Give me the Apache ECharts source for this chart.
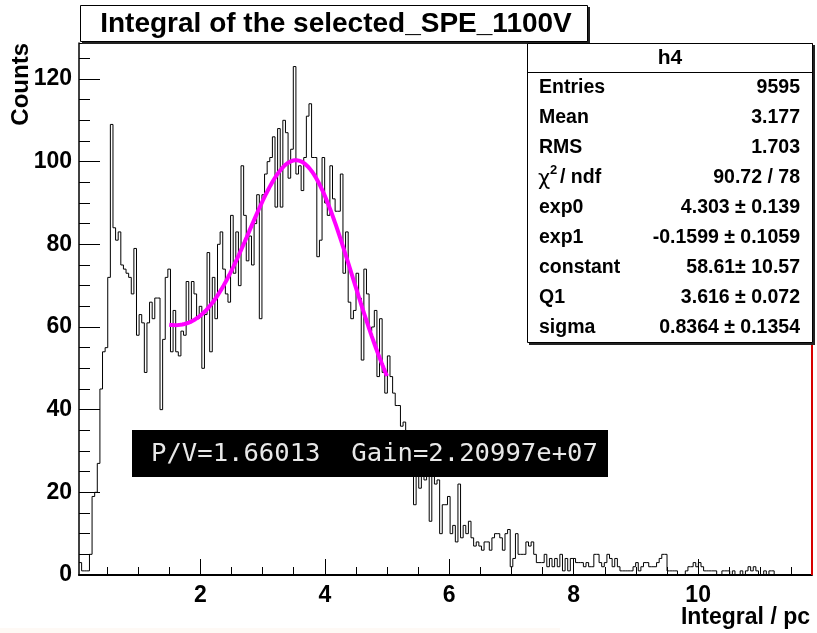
<!DOCTYPE html>
<html>
<head>
<meta charset="utf-8">
<script src="https://cdn.jsdelivr.net/npm/echarts@6/dist/echarts.min.js"></script>
<style>
  html, body { margin: 0; padding: 0; background: #ffffff; }
  #c { width: 817px; height: 633px; }
</style>
</head>
<body>
<div id="c"></div>
<script>
// Histogram binning (charge in pC)
const binLow = 0.05;
const binWidth = 0.042;

// Bin contents, left to right
const countsRise = [3,1,1,1,5,19,20,27,45,54,55,72,109,84,81,83,75,74,73,72,68,79,58,63,61,49,61,66,62,67,67,40,57,72,74,54,64,54,53,59,58,71,61,71,68,62];
const countsPeak = [65,50,63,78,54,72,62,80,83,74,68,66,87,73,83,70,99,87,76,82,75,85,92,62,92,97,100,101,106,89,108,89,110,107,96,103,123,97,99,93,101,111,114,101,101,77,81,101,90];
const countsFall = [87,99,91,88,88,97,73,83,66,62,64,73,67,52,74,68,59,60,64,48,62,49,44,53,48,44,41,41,36,37,33,30,28,17,24,21,24,23,24,13,24,22,23,10,17,17,19,10,12,8,22];
const countsTail = [9,12,10,13,9,7,8,7,6,8,8,6,9,10,10,9,6,10,11,2,4,10,5,5,5,8,7,8,5,3,3,3,5,2,4,2,4,2,5,1,4,1,4,4,3,3,3,2,3,2,2,5,5,3,2,3,5,4,2,4,2,1,1,1,1,1,2];
const countsFar  = [3,1,2,3,3,2,2,2,3,4,5,5,1,1,1,1,0,0,0,1,2,2,3,2,3,2,1,1,1,1,1,0,0,1,1,1,0,1,0,0,1,0,1,2,1,2,1,0,0,1,0,1,1,0,0,0,0,0,0,0,0,0,0,0,0,0,0];

// Axis ranges and ticks
const xMin = 0.05, xMax = 11.83;
const yMin = 0, yMax = 128.7;
const xMajor = [2, 4, 6, 8, 10];
const xMinor = [0.5, 1, 1.5, 2.5, 3, 3.5, 4.5, 5, 5.5, 6.5, 7, 7.5, 8.5, 9, 9.5, 10.5, 11, 11.5];
const yMajor = [0, 20, 40, 60, 80, 100, 120];
const yMinor = [5, 10, 15, 25, 30, 35, 45, 50, 55, 65, 70, 75, 85, 90, 95, 105, 110, 115, 125];

// Fit result (expo + gaus), fitted between fitFrom and fitTo
const exp0 = 4.303, exp1 = -0.1599, constant = 58.61, Q1 = 3.616, sigma = 0.8364;
const fitFrom = 1.5, fitTo = 5.0;

// Texts
const titleText = 'Integral of the selected_SPE_1100V';
const xTitle = 'Integral / pc';
const yTitle = 'Counts';
const statsName = 'h4';
const statLabels = ['Entries', 'Mean', 'RMS', '', 'exp0', 'exp1', 'constant', 'Q1', 'sigma'];
const statValues = ['9595', '3.177', '1.703', '90.72 / 78', '4.303 \u00b1 0.139', '-0.1599 \u00b1 0.1059', '58.61\u00b1 10.57', '3.616 \u00b1 0.072', '0.8364 \u00b1 0.1354'];
const noteText = 'P/V=1.66013  Gain=2.20997e+07';

// ---- build series data ----
const counts = countsRise.concat(countsPeak, countsFall, countsTail, countsFar);
const histPts = counts.map((c, i) => [binLow + i * binWidth, c]);
histPts.push([binLow + counts.length * binWidth, counts[counts.length - 1]]);

function fitFunc(x) {
  return Math.exp(exp0 + exp1 * x) + constant * Math.exp(-0.5 * Math.pow((x - Q1) / sigma, 2));
}
const fitPts = [];
const nFit = 200;
for (let k = 0; k <= nFit; k++) {
  const x = fitFrom + (fitTo - fitFrom) * k / nFit;
  fitPts.push([x, fitFunc(x)]);
}

const sans = '"Liberation Sans", Arial, Helvetica, sans-serif';

function txt(x, y, text, size, opts) {
  opts = opts || {};
  return {
    type: 'text', x: x, y: y, z: opts.z || 110, rotation: opts.rotation || 0, silent: true,
    style: {
      text: text,
      fontSize: size,
      fontWeight: opts.weight || 'bold',
      fontFamily: opts.family || sans,
      fill: opts.fill || '#000',
      align: opts.align || 'left', textAlign: opts.align || 'left',
      verticalAlign: 'middle', textVerticalAlign: 'middle'
    }
  };
}

const graphics = [];
// frame: top border and red right border
graphics.push({ type: 'line', z: 50, silent: true, shape: { x1: 79, y1: 43.5, x2: 812, y2: 43.5 }, style: { stroke: '#000', lineWidth: 1 } });
graphics.push({ type: 'line', z: 50, silent: true, shape: { x1: 812, y1: 43, x2: 812, y2: 575 }, style: { stroke: '#d80000', lineWidth: 2 } });

// title box
graphics.push({ type: 'rect', z: 100, silent: true, shape: { x: 82, y: 7, width: 508, height: 37 }, style: { fill: '#222' } });
graphics.push({ type: 'rect', z: 101, silent: true, shape: { x: 80.5, y: 5.5, width: 507, height: 36 }, style: { fill: '#fff', stroke: '#000', lineWidth: 1 } });
graphics.push(txt(336, 24, titleText, 28, { align: 'center', z: 102 }));

// stats box
graphics.push({ type: 'rect', z: 100, silent: true, shape: { x: 529, y: 45, width: 286, height: 300 }, style: { fill: '#222' } });
graphics.push({ type: 'rect', z: 101, silent: true, shape: { x: 527.5, y: 43.5, width: 285, height: 299 }, style: { fill: '#fff', stroke: '#000', lineWidth: 1 } });
graphics.push({ type: 'line', z: 102, silent: true, shape: { x1: 527.5, y1: 72.5, x2: 812.5, y2: 72.5 }, style: { stroke: '#000', lineWidth: 1 } });
graphics.push(txt(670, 58, statsName, 21, { align: 'center', z: 103 }));
statLabels.forEach((lab, i) => {
  const y = 88 + 30 * i;
  if (lab) graphics.push(txt(539, y, lab, 19.5, { z: 103 }));
  graphics.push(txt(800, y, statValues[i], 19.5, { align: 'right', z: 103 }));
});
// chi-square label with superscript
graphics.push(txt(538, 180, '\u03c7', 21, { weight: 'normal', family: '"DejaVu Sans", sans-serif', z: 103 }));
graphics.push(txt(550, 170, '2', 13, { z: 103 }));
graphics.push(txt(560, 178, '/ ndf', 19.5, { z: 103 }));

// P/V and gain box
graphics.push({ type: 'rect', z: 100, silent: true, shape: { x: 132, y: 430, width: 476, height: 47 }, style: { fill: '#000' } });
graphics.push(txt(151, 454, noteText, 25.6, { weight: 'normal', family: '"DejaVu Sans Mono", monospace', fill: '#e8e8e8', z: 101 }));

// axis titles
graphics.push(txt(21, 43, yTitle, 24, { align: 'right', rotation: Math.PI / 2 }));
graphics.push(txt(810, 618, xTitle, 23, { align: 'right' }));

// faint strip along the bottom edge
graphics.push({ type: 'rect', z: 1, silent: true, shape: { x: 0, y: 628, width: 560, height: 5 }, style: { fill: '#fef9f5' } });

const labelStyle = { fontSize: 23, fontWeight: 'bold', fontFamily: sans, color: '#000' };

const option = {
  animation: false,
  backgroundColor: '#ffffff',
  grid: { left: 79, right: 5, top: 43, bottom: 58, containLabel: false },
  xAxis: [
    {
      type: 'value', min: xMin, max: xMax, position: 'bottom',
      axisLine: { lineStyle: { color: '#000', width: 2 } },
      axisTick: { inside: true, length: 16, customValues: xMajor, lineStyle: { color: '#000', width: 1 } },
      axisLabel: Object.assign({ customValues: xMajor, margin: 9 }, labelStyle),
      splitLine: { show: false }
    },
    {
      type: 'value', min: xMin, max: xMax, position: 'bottom',
      axisLine: { show: false },
      axisTick: { inside: true, length: 8, customValues: xMinor, lineStyle: { color: '#000', width: 1 } },
      axisLabel: { show: false },
      splitLine: { show: false }
    }
  ],
  yAxis: [
    {
      type: 'value', min: yMin, max: yMax, position: 'left',
      axisLine: { show: true, lineStyle: { color: '#000', width: 1.5 } },
      axisTick: { show: true, inside: true, length: 21, customValues: yMajor, lineStyle: { color: '#000', width: 1 } },
      axisLabel: Object.assign({ customValues: yMajor, margin: 7 }, labelStyle),
      splitLine: { show: false }
    },
    {
      type: 'value', min: yMin, max: yMax, position: 'left',
      axisLine: { show: false },
      axisTick: { show: true, inside: true, length: 11, customValues: yMinor, lineStyle: { color: '#000', width: 1 } },
      axisLabel: { show: false },
      splitLine: { show: false }
    }
  ],
  series: [
    {
      name: 'h4', type: 'line', xAxisIndex: 0, yAxisIndex: 0, data: histPts, step: 'end',
      symbol: 'none', showSymbol: false, silent: true, z: 3,
      lineStyle: { color: '#000', width: 1 }
    },
    {
      name: 'fit', type: 'line', xAxisIndex: 0, yAxisIndex: 0, data: fitPts,
      symbol: 'none', showSymbol: false, silent: true, z: 4,
      lineStyle: { color: '#ff00ff', width: 4 }
    }
  ],
  graphic: graphics
};

const chart = echarts.init(document.getElementById('c'), null, { renderer: 'canvas' });
chart.setOption(option);
</script>
</body>
</html>
